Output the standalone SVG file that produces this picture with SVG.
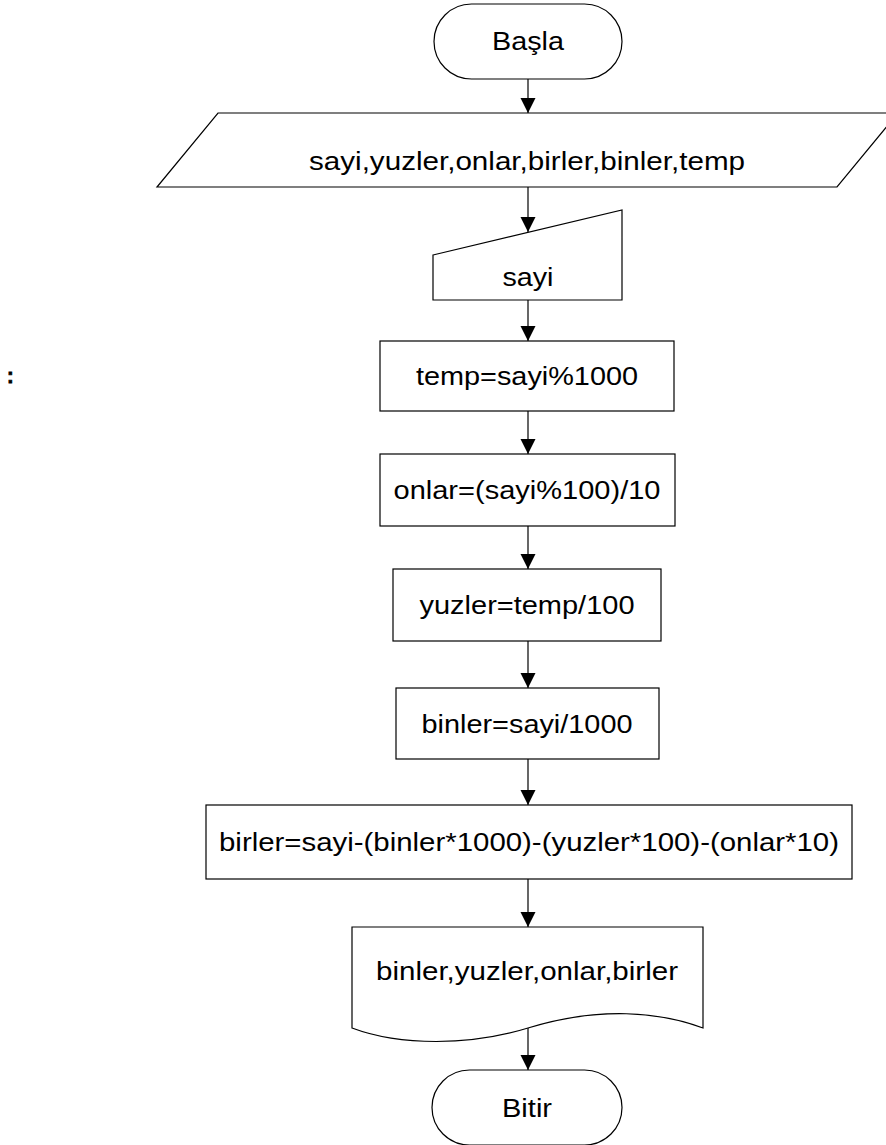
<svg xmlns="http://www.w3.org/2000/svg" width="886" height="1145" viewBox="0 0 886 1145">
<defs>
<marker id="ah" markerWidth="16" markerHeight="16" refX="15" refY="7.5" orient="auto" markerUnits="userSpaceOnUse">
<path d="M0,0 L15,7.5 L0,15 Z" fill="#000"/>
</marker>
<style>
.s{fill:#fff;stroke:#000;stroke-width:1.2}
.t{font-family:"Liberation Sans",Arial,sans-serif;font-size:26px;fill:#000;text-anchor:middle}
.c{stroke:#000;stroke-width:1.2;fill:none;marker-end:url(#ah)}
</style>
</defs>
<rect width="886" height="1145" fill="#fff"/>
<text x="7" y="383" style="font-family:'Liberation Sans',Arial,sans-serif;font-size:20px;font-weight:bold;stroke:#000;stroke-width:0.8">:</text>
<g id="connectors">
<line class="c" x1="528" y1="79" x2="528" y2="113"/>
<line class="c" x1="528" y1="187" x2="528" y2="232"/>
<line class="c" x1="528" y1="300" x2="528" y2="341"/>
<line class="c" x1="528" y1="411" x2="528" y2="454"/>
<line class="c" x1="528" y1="526" x2="528" y2="569"/>
<line class="c" x1="528" y1="641" x2="528" y2="688"/>
<line class="c" x1="528" y1="759" x2="528" y2="805"/>
<line class="c" x1="528" y1="879" x2="528" y2="927"/>
<line class="c" x1="528" y1="1028" x2="528" y2="1070"/>
</g>
<g id="start">
<rect class="s" x="434" y="4" width="188" height="75" rx="37.5"/>
<text class="t" x="528" y="50" textLength="72" lengthAdjust="spacingAndGlyphs">Başla</text>
</g>
<g id="declare">
<polygon class="s" points="218,113 898,113 837,187 157,187"/>
<text class="t" x="527" y="170" textLength="436" lengthAdjust="spacingAndGlyphs">sayi,yuzler,onlar,birler,binler,temp</text>
</g>
<g id="input">
<polygon class="s" points="433,255 622,210 622,300 433,300"/>
<text class="t" x="528" y="286" textLength="51" lengthAdjust="spacingAndGlyphs">sayi</text>
</g>
<g id="temp">
<rect class="s" x="380" y="341" width="294" height="70"/>
<text class="t" x="527" y="385" textLength="222" lengthAdjust="spacingAndGlyphs">temp=sayi%1000</text>
</g>
<g id="onlar">
<rect class="s" x="380" y="454" width="295" height="72"/>
<text class="t" x="527" y="499" textLength="267" lengthAdjust="spacingAndGlyphs">onlar=(sayi%100)/10</text>
</g>
<g id="yuzler">
<rect class="s" x="393" y="569" width="268" height="72"/>
<text class="t" x="527" y="614" textLength="215" lengthAdjust="spacingAndGlyphs">yuzler=temp/100</text>
</g>
<g id="binler">
<rect class="s" x="396" y="688" width="263" height="71"/>
<text class="t" x="527" y="733" textLength="211" lengthAdjust="spacingAndGlyphs">binler=sayi/1000</text>
</g>
<g id="birler">
<rect class="s" x="206" y="805" width="646" height="74"/>
<text class="t" x="529" y="851" textLength="620" lengthAdjust="spacingAndGlyphs">birler=sayi-(binler*1000)-(yuzler*100)-(onlar*10)</text>
</g>
<g id="output">
<path class="s" d="M352,927 L703,927 L703,1028 C660,1012 600,1006 528,1028 C470,1046 400,1046 352,1028 Z"/>
<text class="t" x="527" y="980" textLength="302" lengthAdjust="spacingAndGlyphs">binler,yuzler,onlar,birler</text>
</g>
<g id="end">
<rect class="s" x="432" y="1070" width="190" height="75" rx="37.5"/>
<text class="t" x="527" y="1117" textLength="50" lengthAdjust="spacingAndGlyphs">Bitir</text>
</g>
</svg>
